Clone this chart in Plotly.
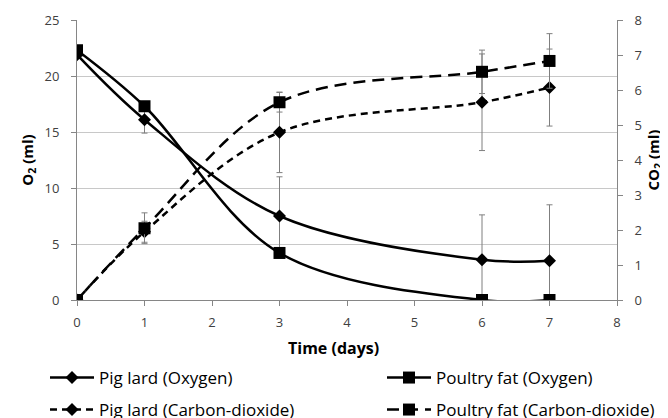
import plotly.graph_objects as go

days = [0, 1, 3, 6, 7]

pig_o2 = [21.9, 16.1, 7.5, 3.6, 3.5]
pig_o2_err = [0, 1.2, 3.5, 4.0, 5.0]
poultry_o2 = [22.3, 17.3, 4.2, 0.0, 0.0]
poultry_o2_err = [0, 0, 0.2, 0, 0]

pig_co2 = [0, 1.95, 4.79, 5.65, 6.07]
pig_co2_err = [0, 0.3, 1.15, 1.38, 1.1]
poultry_co2 = [0, 2.05, 5.65, 6.52, 6.83]
poultry_co2_err = [0, 0.44, 0.28, 0.62, 0.78]

names = ["Pig lard (Oxygen)", "Poultry fat (Oxygen)",
         "Pig lard (Carbon-dioxide)", "Poultry fat (Carbon-dioxide)"]

FONT = "Open Sans"
ERR = "#7f7f7f"
W, H = 668, 418
OFF = 8  # page body margin


def err(vals):
    return dict(type="data", array=vals, visible=True, color=ERR, thickness=1, width=3)


fig = go.Figure()
fig.add_trace(go.Scatter(
    x=days, y=pig_o2, name=names[0], mode="lines+markers",
    line=dict(color="black", width=2.5, shape="spline", smoothing=1.0),
    marker=dict(symbol="diamond", size=10, color="black"),
    error_y=err(pig_o2_err), legend="legend"))
fig.add_trace(go.Scatter(
    x=days, y=poultry_o2, name=names[1], mode="lines+markers",
    line=dict(color="black", width=2.5, shape="spline", smoothing=1.0),
    marker=dict(symbol="square", size=12, color="black"),
    error_y=err(poultry_o2_err), legend="legend2"))
fig.add_trace(go.Scatter(
    x=days, y=pig_co2, name=names[2], mode="lines+markers", yaxis="y2",
    line=dict(color="black", width=2.5, shape="spline", smoothing=1.0, dash="7px,5px"),
    marker=dict(symbol="diamond", size=10, color="black"),
    error_y=err(pig_co2_err), legend="legend3"))
fig.add_trace(go.Scatter(
    x=days, y=poultry_co2, name=names[3], mode="lines+markers", yaxis="y2",
    line=dict(color="black", width=2.5, shape="spline", smoothing=1.0, dash="12px,7px"),
    marker=dict(symbol="square", size=12, color="black"),
    error_y=err(poultry_co2_err), legend="legend4"))

axis_common = dict(
    showline=True, linecolor="#868686", linewidth=1,
    ticks="outside", ticklen=5, tickcolor="#868686",
    tickfont=dict(family=FONT, size=13, color="#404040"),
    zeroline=False,
)


def leg(px, py):
    return dict(
        orientation="h", xref="container", yref="container",
        xanchor="left", yanchor="middle",
        x=(px - OFF - 5) / W, y=1 - (py - OFF) / H,
        font=dict(family=FONT, size=17, color="black"),
        bgcolor="rgba(0,0,0,0)", itemwidth=44,
    )


title_font = dict(family=FONT, size=15, color="black")

fig.update_layout(
    width=W, height=H,
    margin=dict(l=77 - OFF, r=W - 617 + OFF, t=20 - OFF, b=H - 300 + OFF, autoexpand=False),
    plot_bgcolor="white", paper_bgcolor="white",
    font=dict(family=FONT, color="black"),
    xaxis=dict(
        range=[0, 8], dtick=1, tick0=0, showgrid=False,
        ticklabelstandoff=5,
        **axis_common),
    yaxis=dict(
        range=[0, 25], dtick=5, showgrid=True, gridcolor="#c8c8c8", gridwidth=1,
        title=dict(text="<b>O<sub>2</sub> (ml)</b>", font=title_font, standoff=7),
        ticklabelstandoff=9,
        **axis_common),
    yaxis2=dict(
        range=[0, 8], dtick=1, overlaying="y", side="right", showgrid=False,
        title=dict(text="<b>CO<sub>2</sub> (ml)</b>", font=title_font, standoff=6),
        ticklabelstandoff=9,
        **axis_common),
    legend=leg(50, 378),
    legend2=leg(387, 378),
    legend3=leg(50, 410),
    legend4=leg(387, 410),
    showlegend=True,
    annotations=[dict(
        text="<b>Time (days)</b>", xref="paper", yref="paper",
        x=(333 - 77) / 540, y=-(348 - 300) / 280, xanchor="center", yanchor="middle",
        showarrow=False, font=dict(family=FONT, size=16, color="black"))],
)

fig.write_html("out.html")
